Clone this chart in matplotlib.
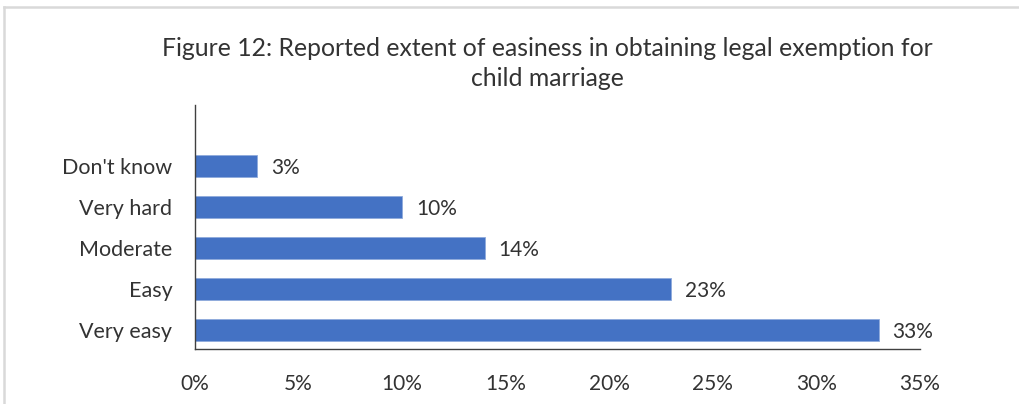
import matplotlib
matplotlib.use("Agg")
import matplotlib.pyplot as plt
from matplotlib.lines import Line2D
from matplotlib.ticker import FuncFormatter

# Survey responses, bottom to top
categories = ["Very easy", "Easy", "Moderate", "Very hard", "Don't know"]
percentages = [33, 23, 14, 10, 3]
x_ticks = [0, 5, 10, 15, 20, 25, 30, 35]

title = ("Figure 12: Reported extent of easiness in obtaining legal exemption for\n"
         "child marriage")

plt.rcParams["font.family"] = ["Lato", "DejaVu Sans"]
text_color = "#333333"
bar_color = "#4472C4"

fig = plt.figure(figsize=(10.19, 4.04), dpi=100)
ax = fig.add_axes([0.1909, 0.1361, 0.7120, 0.6040])

positions = range(len(categories))
ax.barh(positions, percentages, height=0.55, color=bar_color,
        edgecolor="#8FAADC", linewidth=0.6)

for y, v in zip(positions, percentages):
    ax.annotate(f"{v}%", xy=(v, y), xytext=(14, -2), textcoords="offset pixels",
                va="center", ha="left", fontsize=15, color=text_color)

ax.set_xlim(0, 35)
ax.set_ylim(-0.47, 5.49)
ax.set_xticks(x_ticks)
ax.xaxis.set_major_formatter(FuncFormatter(lambda v, _: f"{v:.0f}%"))
ax.set_yticks(list(positions))
ax.set_yticklabels(categories)

ax.tick_params(axis="x", length=0, pad=18, labelsize=15, labelcolor=text_color)
ax.tick_params(axis="y", length=0, pad=16, labelsize=15.5, labelcolor=text_color)

for side in ("top", "right"):
    ax.spines[side].set_visible(False)
for side in ("left", "bottom"):
    ax.spines[side].set_color("#404040")
    ax.spines[side].set_linewidth(1.0)

fig.text(0.537, 0.843, title, ha="center", va="center", fontsize=17.8,
         color=text_color, linespacing=1.38)

# Light frame around the chart area
frame_kw = dict(color="#D9D9D9", linewidth=1.8, transform=fig.transFigure)
fig.add_artist(Line2D([3.5 / 1019, 3.5 / 1019], [0, 1 - 6.5 / 404], **frame_kw))
fig.add_artist(Line2D([3.5 / 1019, 1], [1 - 6.5 / 404, 1 - 6.5 / 404], **frame_kw))

fig.savefig("out.png", dpi=100)
